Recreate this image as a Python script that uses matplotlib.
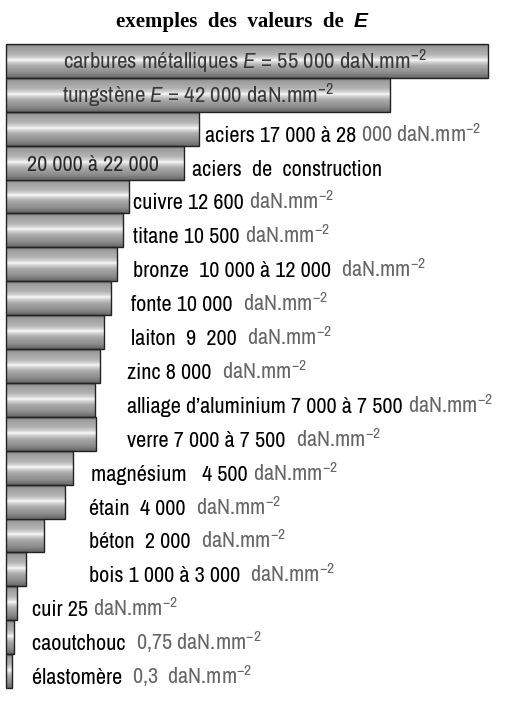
import numpy as np
import matplotlib.pyplot as plt

# longueur des barres telle que dessinée (échelle illustrative, pas linéaire en E)
materiaux = ["carbures métalliques", "tungstène", "aciers", "aciers de construction",
             "cuivre", "titane", "bronze", "fonte", "laiton", "zinc",
             "alliage d'aluminium", "verre", "magnésium", "étain", "béton",
             "bois", "cuir", "caoutchouc", "élastomère"]
longueurs = [482, 384, 193, 178, 123, 117, 111, 105, 98, 94,
             89, 90, 67, 59, 38, 20, 11, 8, 6]

# textes : (partie noire, partie grise)
etiquettes = [
    ("", "carbures métalliques $\\mathit{E}$ = 55 000 daN.mm$^{-2}$"),
    ("", "tungstène $\\mathit{E}$ = 42 000 daN.mm$^{-2}$"),
    ("aciers 17 000 à 28 ", "000 daN.mm$^{-2}$"),
    ("aciers  de  construction", ""),
    ("cuivre 12 600 ", "daN.mm$^{-2}$"),
    ("titane 10 500 ", "daN.mm$^{-2}$"),
    ("bronze  10 000 à 12 000  ", "daN.mm$^{-2}$"),
    ("fonte 10 000  ", "daN.mm$^{-2}$"),
    ("laiton  9  200  ", "daN.mm$^{-2}$"),
    ("zinc 8 000  ", "daN.mm$^{-2}$"),
    ("alliage d’aluminium 7 000 à 7 500 ", "daN.mm$^{-2}$"),
    ("verre 7 000 à 7 500  ", "daN.mm$^{-2}$"),
    ("magnésium   4 500 ", "daN.mm$^{-2}$"),
    ("étain  4 000  ", "daN.mm$^{-2}$"),
    ("béton  2 000  ", "daN.mm$^{-2}$"),
    ("bois 1 000 à 3 000  ", "daN.mm$^{-2}$"),
    ("cuir 25 ", "daN.mm$^{-2}$"),
    ("caoutchouc  ", "0,75 daN.mm$^{-2}$"),
    ("élastomère  ", "0,3  daN.mm$^{-2}$"),
]
# position x du début de chaque texte (px)
pos_x = [63, 62, 205, 192, 133, 133, 133, 131, 131, 127,
         127, 127, 91, 89, 89, 89, 32, 32, 32]

POLICE = ['Archivo Narrow', 'Roboto Condensed', 'Liberation Sans', 'DejaVu Sans']
plt.rcParams['font.family'] = POLICE
plt.rcParams['mathtext.fontset'] = 'custom'
plt.rcParams['mathtext.rm'] = 'Archivo Narrow'
plt.rcParams['mathtext.it'] = 'Archivo Narrow:italic'

fig = plt.figure(figsize=(5.05, 7.03), dpi=100)
ax = fig.add_axes([0, 0, 1, 1])
ax.axis('off')

x0 = 6
n = len(longueurs)
y = np.arange(n)

# dégradé "cylindre" gris avec reflet blanc
t = np.linspace(0, 1, 60)
profil = np.interp(t, [0, 0.1, 0.3, 0.42, 0.47, 0.52, 0.65, 0.85, 1.0],
                   [0.50, 0.62, 0.70, 0.85, 0.98, 0.85, 0.66, 0.55, 0.40])
grad = profil[:, None]

for i, L in enumerate(longueurs):
    ax.imshow(grad, cmap='gray', vmin=0, vmax=1, aspect='auto',
              extent=(x0, x0 + L, i + 0.5, i - 0.5), interpolation='bilinear')
ax.barh(y, longueurs, left=x0, height=1.0, fill=False,
        edgecolor='#222222', linewidth=1.0)

ax.set_xlim(0, 505)
ax.set_ylim(18.94, -1.798)

fs = 16
paires = []
for i, (noir, gris) in enumerate(etiquettes):
    interieur = i < 2
    yy = i + (0.22 if interieur else 0.38)
    t1 = ax.text(pos_x[i], yy, noir, fontsize=fs, color='black', va='baseline')
    c2 = '#3a3a3a' if interieur else '#666666'
    t2 = ax.text(pos_x[i], yy, gris, fontsize=(16.5 if interieur else fs),
                 color=c2, va='baseline')
    paires.append((t1, t2))

# texte "20 000 à 22 000" dans la barre des aciers de construction
ax.text(27, 3 + 0.25, "20 000 à 22 000", fontsize=fs, color='#2a2a2a', va='baseline')

# titre
tt1 = fig.text(0.465, 0.961, "exemples  des  valeurs  de  ", family='Liberation Serif',
               fontweight='bold', fontsize=15, va='baseline', ha='center')
tt2 = fig.text(0.5, 0.961, "E", family='Liberation Sans', fontweight='bold',
               style='italic', fontsize=15, va='baseline')

fig.canvas.draw()
r = fig.canvas.get_renderer()
inv = ax.transData.inverted()
for t1, t2 in paires:
    bb = t1.get_window_extent(r)
    if t1.get_text():
        t2.set_x(inv.transform((bb.x1, 0))[0])
bb = tt1.get_window_extent(r)
tt2.set_x(fig.transFigure.inverted().transform((bb.x1, 0))[0])

fig.savefig("out.png", dpi=100)
